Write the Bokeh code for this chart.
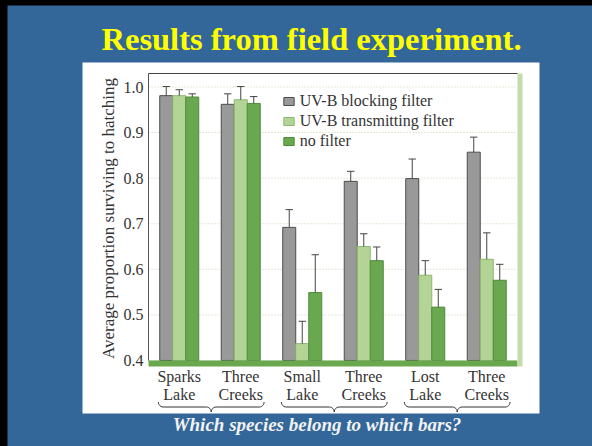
import numpy as np
from bokeh.plotting import figure
from bokeh.models import Range1d, FixedTicker, NumeralTickFormatter, ColumnDataSource
from bokeh.core.properties import value
from bokeh.embed import file_html
from bokeh.resources import INLINE

# ---------------- data ----------------
sites = ["Sparks\nLake", "Three\nCreeks", "Small\nLake", "Three\nCreeks", "Lost\nLake", "Three\nCreeks"]
series_names = ["UV-B blocking filter", "UV-B transmitting filter", "no filter"]
blocking = [0.981, 0.962, 0.692, 0.793, 0.799, 0.857]
blocking_upper = [1.001, 0.985, 0.731, 0.815, 0.842, 0.890]
transmitting = [0.981, 0.972, 0.437, 0.650, 0.587, 0.622]
transmitting_upper = [0.994, 1.001, 0.486, 0.678, 0.619, 0.680]
no_filter = [0.978, 0.964, 0.549, 0.619, 0.517, 0.576]
no_filter_upper = [0.985, 0.979, 0.632, 0.649, 0.556, 0.611]
y_ticks = [0.4, 0.5, 0.6, 0.7, 0.8, 0.9, 1.0]
y_tick_labels = ["0.4", "0.5", "0.6", "0.7", "0.8", "0.9", "1.0"]
species_pairs = [(0, 1), (2, 3), (4, 5)]
title_text = ["Results from field experiment."]
question_text = ["Which species belong to which bars?"]
y_label = ["Average proportion surviving to hatching"]
baseline = 0.4

# ---------------- style / layout ----------------
BLUE = "#336699"
GRAY, GRAY_LINE = "#999999", "#4d4d4d"
LIGHT, LIGHT_LINE = "#b4d497", "#8cb86e"
GREEN, GREEN_LINE = "#6aa84f", "#4e8c38"
RIGHT_BAR = "#c4dcab"
GRID = "#c2d6b0"
TXT = "#333333"
FONT = "Liberation Serif"

PX_X = 61.5      # px per category unit
PX_Y = 455.8     # px per y unit

def px2x(px):
    return (px - 148) / PX_X

def px2y(py):
    return 1.0 - (py - 86.5) / PX_Y

n = len(sites)
y_top = px2y(73)
y_bot = px2y(366)

p = figure(width=585, height=441, output_backend="svg", toolbar_location=None,
           x_range=Range1d(px2x(7), px2x(592)), y_range=Range1d(px2y(446), px2y(5)),
           min_border=0, title_location=None,
           border_fill_color=BLUE, background_fill_color=BLUE, outline_line_color=None)
p.grid.visible = False

# white panel
p.quad(left=[px2x(82)], right=[px2x(539)], bottom=[px2y(413)], top=[px2y(62)],
       fill_color="white", line_color=None)

# grid lines
p.segment(x0=[0] * len(y_ticks), x1=[n] * len(y_ticks), y0=y_ticks, y1=y_ticks,
          line_color=GRID, line_width=1, line_dash="1 2")

# bars
w = 0.2114
xc = np.arange(n) + 0.5
cap = 0.06
specs = [
    (blocking, blocking_upper, -w, GRAY, GRAY_LINE, series_names[0]),
    (transmitting, transmitting_upper, 0.0, LIGHT, LIGHT_LINE, series_names[1]),
    (no_filter, no_filter_upper, w, GREEN, GREEN_LINE, series_names[2]),
]
err_srcs = []
for vals, upper, off, fill, line, name in specs:
    x = xc + off
    src = ColumnDataSource(dict(x=x, top=vals, up=upper, c0=x - cap, c1=x + cap))
    p.vbar(x="x", width=w, bottom=baseline, top="top", source=src,
           fill_color=fill, line_color=line, line_width=1, legend_label=name)
    err_srcs.append(src)
for src in err_srcs:
    p.segment(x0="x", y0="top", x1="x", y1="up", source=src, line_color="#444444", line_width=1)
    p.segment(x0="c0", y0="up", x1="c1", y1="up", source=src, line_color="#444444", line_width=1)

# base band, right edge bar, top frame line
p.quad(left=[0], right=[n], bottom=[y_bot], top=[baseline], fill_color=GREEN, line_color=None)
p.quad(left=[n], right=[px2x(522)], bottom=[y_bot], top=[y_top], fill_color=RIGHT_BAR, line_color=None)
p.segment(x0=[0], x1=[n], y0=[y_top], y1=[y_top], line_color="#444444", line_width=1)

# y axis (fixed inside the canvas)
ya = p.yaxis[0]
ya.fixed_location = 0.0
ya.ticker = FixedTicker(ticks=y_ticks)
ya.formatter = NumeralTickFormatter(format="0.0")
ya.major_label_overrides = dict(zip(y_ticks, y_tick_labels))
ya.bounds = (baseline, y_top)
ya.axis_line_color = "#555555"
ya.major_tick_line_color = None
ya.minor_tick_line_color = None
ya.major_tick_out = 0
ya.major_tick_in = 0
ya.major_label_standoff = 5
ya.major_label_text_font = FONT
ya.major_label_text_font_size = "16px"
ya.major_label_text_color = TXT

# x axis (fixed at bottom of chart)
xa = p.xaxis[0]
xa.fixed_location = y_bot
xa.ticker = FixedTicker(ticks=list(xc))
xa.major_label_overrides = {float(t): s for t, s in zip(xc, sites)}
xa.axis_line_color = None
xa.major_tick_line_color = None
xa.minor_tick_line_color = None
xa.major_tick_out = 0
xa.major_tick_in = 0
xa.major_label_standoff = 1
xa.major_label_text_font = FONT
xa.major_label_text_font_size = "16px"
xa.major_label_text_color = TXT
xa.major_label_text_line_height = 1.1

# y axis title
p.text(x=[px2x(108)], y=[px2y(218)], text=y_label, angle=np.pi / 2,
       text_align="center", text_baseline="middle", text_font=value(FONT),
       text_font_size="17px", text_color=TXT)

# legend
lg = p.legend[0]
lg.location = (274.7, 441 - 146)
lg.margin = 0
lg.padding = 0
lg.spacing = 0
lg.border_line_color = None
lg.background_fill_alpha = 0
lg.glyph_width = 13
lg.glyph_height = 10
lg.label_height = 20
lg.label_standoff = 5
lg.label_text_font = FONT
lg.label_text_font_size = "16px"
lg.label_text_color = TXT

# braces under species pairs
y_hook, y_mid, y_tip = px2y(401.5), px2y(406.5), px2y(411.5)
r = 0.08
t = np.linspace(0, np.pi / 2, 7)
bxs, bys = [], []
for a, b in species_pairs:
    xm = (a + b) / 2 + 0.5 + 0.02
    xl = xm - 0.86
    lx = list(xl + r * (1 - np.cos(t))) + list(xm - r + r * np.sin(t))
    ly = list(y_hook - (y_hook - y_mid) * np.sin(t)) + list(y_mid - (y_mid - y_tip) * (1 - np.cos(t)))
    rx = [2 * xm - v for v in lx]
    bxs += [lx, rx]
    bys += [ly, ly]
p.multi_line(xs=bxs, ys=bys, line_color=TXT, line_width=1)

# title and question
p.text(x=[px2x(311)], y=[px2y(38)], text=title_text, text_align="center",
       text_baseline="middle", text_font=value(FONT), text_font_size="32.5px",
       text_font_style="bold", text_color="#ffff00")
p.text(x=[px2x(316.5)], y=[px2y(424)], text=question_text, text_align="center",
       text_baseline="middle", text_font=value(FONT), text_font_size="19px",
       text_font_style="bold italic", text_color="#f2f2f2")

html = file_html(p, INLINE)
html = html.replace("<body>", '<body style="background-color:#000000;padding:5px 0 0 7px;">')
open("out.html", "w").write(html)
